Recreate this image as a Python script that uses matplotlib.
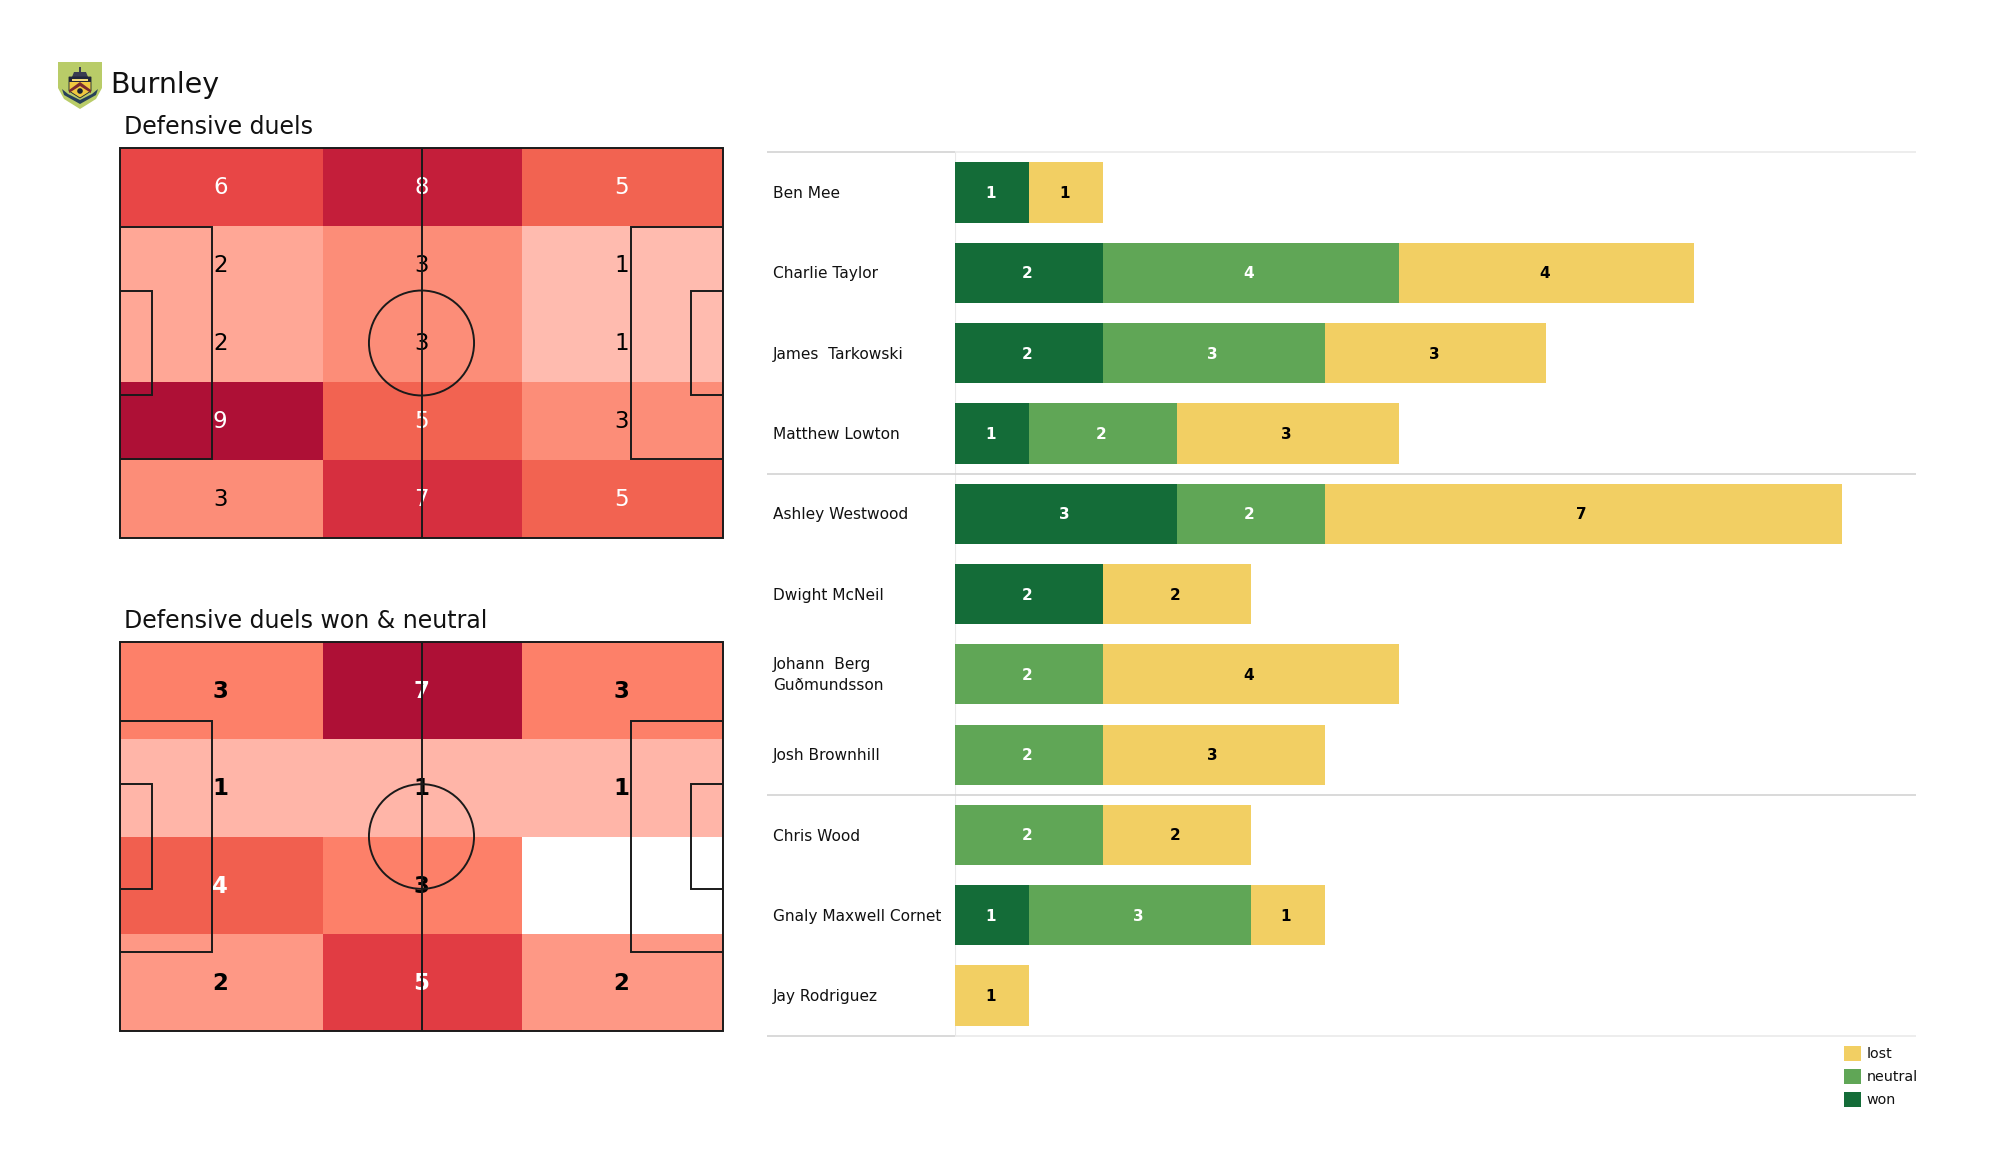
import numpy as np
import matplotlib
matplotlib.use('Agg')
import matplotlib.pyplot as plt
from matplotlib.colors import LinearSegmentedColormap
from matplotlib.patches import Circle, Polygon, Rectangle

W, H = 2000, 1175

players = ['Ben Mee', 'Charlie Taylor', 'James  Tarkowski', 'Matthew Lowton',
           'Ashley Westwood', 'Dwight McNeil', 'Johann  Berg\nGuðmundsson',
           'Josh Brownhill', 'Chris Wood', 'Gnaly Maxwell Cornet', 'Jay Rodriguez']
won = [1, 2, 2, 1, 3, 2, 0, 0, 0, 1, 0]
neutral = [0, 4, 3, 2, 2, 0, 2, 2, 2, 3, 0]
lost = [1, 4, 3, 3, 7, 2, 4, 3, 2, 1, 1]
inner_breaks = [4, 8]
outer_breaks = [0, 11]

duels = [[6, 8, 5],
         [2, 3, 1],
         [2, 3, 1],
         [9, 5, 3],
         [3, 7, 5]]
duels_won = [[3, 7, 3],
             [1, 1, 1],
             [4, 3, 0],
             [2, 5, 2]]
col_edges = [0, 35.3, 70, 105]

GREEN_D = '#146c38'
GREEN_L = '#60a656'
YELLOW = '#f2cf63'
LINE = '#1a1a1a'

heat = LinearSegmentedColormap.from_list('heat', [
    (0.0, '#ffd0c8'), (0.11, '#ffbbaf'), (0.25, '#ffa28f'), (0.33, '#fc8d78'),
    (0.43, '#fd8069'), (0.56, '#f26250'), (0.667, '#e84646'), (0.78, '#d62f3f'),
    (0.89, '#c41e3a'), (1.0, '#ae1036')])
heat.set_bad('white')


def px_axes(fig, x0, y0, x1, y1, **kw):
    # pixel box measured from the top left of the picture
    return fig.add_axes([x0 / W, 1 - y1 / H, (x1 - x0) / W, (y1 - y0) / H], **kw)


def draw_pitch(ax):
    ax.add_patch(Rectangle((0, 0), 105, 68, fill=False, ec=LINE, lw=1.4, zorder=4, clip_on=False))
    ax.plot([52.5, 52.5], [0, 68], color=LINE, lw=1.4, zorder=4)
    ax.add_patch(Circle((52.5, 34), 9.15, fill=False, ec=LINE, lw=1.4, zorder=4))
    for x, w in [(0, 16), (105 - 16, 16), (0, 5.5), (105 - 5.5, 5.5)]:
        h = 40.3 if w > 10 else 18.3
        ax.add_patch(Rectangle((x, 34 - h / 2), w, h, fill=False, ec=LINE, lw=1.4, zorder=4))


def draw_heatmap(fig, box, values, title, weight):
    ax = px_axes(fig, *box)
    vals = np.array(values, dtype=float)
    row_edges = np.linspace(0, 68, vals.shape[0] + 1)
    ax.pcolormesh(col_edges, row_edges, np.ma.masked_equal(vals, 0), cmap=heat, vmin=0, vmax=vals.max())
    for r in range(vals.shape[0]):
        for c in range(vals.shape[1]):
            if vals[r, c] == 0:
                continue
            ax.annotate(str(int(vals[r, c])),
                        ((col_edges[c] + col_edges[c + 1]) / 2, (row_edges[r] + row_edges[r + 1]) / 2),
                        xytext=(-0.8, -0.7), textcoords='offset points', ha='center', va='center',
                        fontsize=16.5, fontweight=weight,
                        color='white' if vals[r, c] / vals.max() > 0.5 else 'black', zorder=3)
    draw_pitch(ax)
    ax.set_xlim(0, 105)
    ax.set_ylim(68, 0)
    ax.axis('off')
    fig.text(124 / W, 1 - (box[1] - 21) / H, title, fontsize=17, ha='left', va='center', color='#111111')


def draw_crest(fig):
    ax = px_axes(fig, 58, 60, 102, 110)
    ax.axis('off')
    outline = [(0, 2), (44, 2), (44, 28), (38, 39), (22, 49), (6, 39), (0, 28)]
    inner = [(2.5, 4.5), (41.5, 4.5), (41.5, 27), (36, 37), (22, 46), (8, 37), (2.5, 27)]
    ax.add_patch(Polygon(outline, fc='#b9cc68', ec='none'))
    sky = ax.imshow(np.linspace(0, 1, 50).reshape(-1, 1), extent=(0, 44, 50, 0), aspect='auto',
                    cmap=LinearSegmentedColormap.from_list('sky', ['#4e9cbc', '#a5d0d2', '#e4edb8']))
    sky.set_clip_path(Polygon(inner, transform=ax.transData))
    ax.set_xlim(0, 44)
    ax.set_ylim(50, 0)
    ax.add_patch(Rectangle((21, 7), 2, 5, fc='#3a3d52', ec='none'))
    ax.add_patch(Polygon([(14, 17), (16, 12), (28, 12), (30, 17)], fc='#3a3d52', ec='none'))
    ax.add_patch(Polygon([(11, 17), (33, 17), (33, 31), (22, 38), (11, 31)], fc='#efc93f', ec='#1b2233', lw=0.6))
    ax.add_patch(Rectangle((11, 17), 22, 5, fc='#23283a', ec='none'))
    ax.add_patch(Rectangle((14, 18.5), 16, 2, fc='#f3dc7c', ec='none'))
    ax.add_patch(Polygon([(11, 30), (22, 22), (33, 30), (33, 33), (22, 26), (11, 33)], fc='#7a2b2f', ec='none'))
    ax.add_patch(Circle((22, 31), 2.8, fc='#1b2233', ec='none'))
    ax.add_patch(Polygon([(4, 29), (10, 34), (22, 40), (34, 34), (40, 29), (38, 35), (22, 44), (6, 35)],
                         fc='#27405a', ec='none'))


fig = plt.figure(figsize=(W / 100, H / 100), dpi=100, facecolor='white')

draw_crest(fig)
fig.text(110 / W, 1 - 85 / H, 'Burnley', fontsize=20.5, ha='left', va='center', color='#111111')
draw_heatmap(fig, (120, 148, 723, 538), duels, 'Defensive duels', 'normal')
draw_heatmap(fig, (120, 642, 723, 1031), duels_won, 'Defensive duels won & neutral', 'bold')

# stacked bars
ax = px_axes(fig, 955, 152.4, 1916, 1035.7)
y = np.arange(len(players))
left = np.zeros(len(players))
series = [('won', won, GREEN_D, 'white'), ('neutral', neutral, GREEN_L, 'white'), ('lost', lost, YELLOW, 'black')]
for name, vals, color, tc in series:
    bars = ax.barh(y, vals, left=left, height=0.75, color=color, label=name, zorder=2)
    anns = ax.bar_label(bars, labels=[str(v) if v else '' for v in vals], label_type='center',
                        color=tc, fontsize=11, fontweight='bold')
    for a in anns:
        a.xyann = (-1.2, -0.7)
    left = left + np.array(vals)

ax.set_xlim(0, 13)
ax.set_ylim(len(players) - 0.5, -0.5)
ax.set_xticks([])
ax.set_yticks([])
for s in ax.spines.values():
    s.set_visible(False)
ax.axvline(0, color='#e8e8e8', lw=0.8, zorder=1)

trans = ax.get_yaxis_transform()
for b in inner_breaks:
    ax.hlines(b - 0.5, -0.196, 1, transform=trans, color='#d0d0d0', lw=1.1, clip_on=False)
for b in outer_breaks:
    ax.hlines(b - 0.5, -0.196, 0, transform=trans, color='#d0d0d0', lw=1.1, clip_on=False)
    ax.hlines(b - 0.5, 0, 1, transform=trans, color='#e8e8e8', lw=1.1, clip_on=False)

for i, name in enumerate(players):
    ax.annotate(name, (-0.1895, i), xycoords=trans, xytext=(0, -0.8), textcoords='offset points',
                ha='left', va='center', fontsize=11.1, color='#111111', linespacing=1.5)

handles, labels = ax.get_legend_handles_labels()
ax.legend(handles[::-1], labels[::-1], loc='upper right', bbox_to_anchor=(1.008, -0.0045), frameon=False,
          fontsize=10.3, handlelength=1.2, handleheight=1.2, handletextpad=0.35, labelspacing=0.56,
          borderpad=0.44, borderaxespad=0, labelcolor='#111111')

fig.savefig('out.png', dpi=100)
plt.close('all')
